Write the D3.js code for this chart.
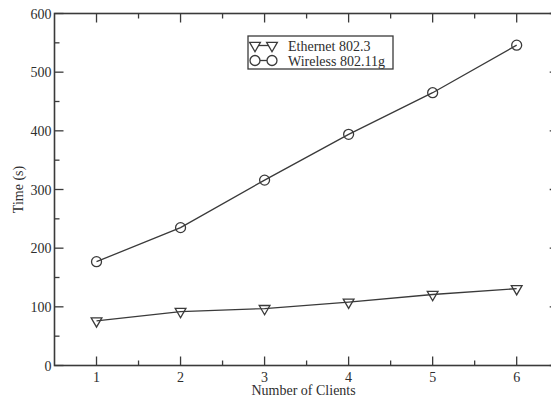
<!DOCTYPE html>
<html>
  <head>
    <title>Time vs Clients</title>
    <script src="https://cdn.jsdelivr.net/npm/d3@7"></script>
    <style>
      body { margin: 0; background: #fff; }
      text { font-family: "Liberation Serif", "DejaVu Serif", serif; fill: #2e2e2e; }
    </style>
  </head>
  <body>
    <svg width="551" height="398" id="mainsvg"></svg>
    <script>
        const clients = [1, 2, 3, 4, 5, 6];
        const ethernet = [76, 92, 97, 108, 121, 131];
        const wireless = [177, 235, 316, 394, 465, 546];
        const seriesNames = ['Ethernet 802.3', 'Wireless 802.11g'];
        const yTicks = [0, 100, 200, 300, 400, 500, 600];

        const svg = d3.select('#mainsvg');
        const margin = {top: 13.5, left: 54.5, bottom: 365.5, right: 558.7};

        const x = d3.scaleLinear().domain([0.5, 6.5]).range([margin.left, margin.right]);
        const y = d3.scaleLinear().domain([0, 600]).range([margin.bottom, margin.top]);

        const ink = '#3a3a3a';

        // ticks, inward on all four sides
        const ticks = svg.append('g').attr('stroke', ink).attr('stroke-width', 1.3);
        const xMajor = clients, xMinor = d3.range(1.5, 6.5, 1);
        const yMinor = d3.range(50, 600, 100);
        xMajor.forEach(v => {
          ticks.append('line').attr('x1', x(v)).attr('x2', x(v)).attr('y1', y(0)).attr('y2', y(0) - 9);
          ticks.append('line').attr('x1', x(v)).attr('x2', x(v)).attr('y1', y(600)).attr('y2', y(600) + 9);
        });
        xMinor.forEach(v => {
          ticks.append('line').attr('x1', x(v)).attr('x2', x(v)).attr('y1', y(0)).attr('y2', y(0) - 5);
          ticks.append('line').attr('x1', x(v)).attr('x2', x(v)).attr('y1', y(600)).attr('y2', y(600) + 5);
        });
        yTicks.forEach(v => {
          ticks.append('line').attr('x1', x(0.5)).attr('x2', x(0.5) + 9).attr('y1', y(v)).attr('y2', y(v));
          ticks.append('line').attr('x1', x(6.5)).attr('x2', x(6.5) - 9).attr('y1', y(v)).attr('y2', y(v));
        });
        yMinor.forEach(v => {
          ticks.append('line').attr('x1', x(0.5)).attr('x2', x(0.5) + 5).attr('y1', y(v)).attr('y2', y(v));
          ticks.append('line').attr('x1', x(6.5)).attr('x2', x(6.5) - 5).attr('y1', y(v)).attr('y2', y(v));
        });

        // frame
        svg.append('rect')
          .attr('x', x(0.5)).attr('y', y(600))
          .attr('width', x(6.5) - x(0.5)).attr('height', y(0) - y(600))
          .attr('fill', 'none').attr('stroke', ink).attr('stroke-width', 1.6);

        // tick labels
        svg.append('g').selectAll('text').data(xMajor).join('text')
          .attr('x', d => x(d)).attr('y', y(0) + 16)
          .attr('text-anchor', 'middle').attr('font-size', 14)
          .text(d => d);
        svg.append('g').selectAll('text').data(yTicks).join('text')
          .attr('x', x(0.5) - 3).attr('y', d => y(d) + 5)
          .attr('text-anchor', 'end').attr('font-size', 14)
          .text(d => d);

        // axis titles
        svg.append('text')
          .attr('x', (x(0.5) + x(6.5)) / 2 - 3).attr('y', 395)
          .attr('text-anchor', 'middle').attr('font-size', 14)
          .text('Number of Clients');
        svg.append('text')
          .attr('transform', `translate(23, ${(y(0) + y(600)) / 2}) rotate(-90)`)
          .attr('text-anchor', 'middle').attr('font-size', 14)
          .text('Time (s)');

        const line = d3.line().x((d, i) => x(clients[i])).y(d => y(d));
        const tri = d3.symbol().type(d3.symbolTriangle).size(50);
        const circ = d3.symbol().type(d3.symbolCircle).size(78);

        const series = [
          {name: seriesNames[0], values: ethernet, shape: tri, rot: 180},
          {name: seriesNames[1], values: wireless, shape: circ, rot: 0}
        ];

        series.forEach(s => {
          svg.append('path').attr('d', line(s.values))
            .attr('fill', 'none').attr('stroke', ink).attr('stroke-width', 1.3);
          svg.append('g').selectAll('path').data(s.values).join('path')
            .attr('d', s.shape())
            .attr('transform', (d, i) => `translate(${x(clients[i])}, ${y(d)}) rotate(${s.rot})`)
            .attr('fill', 'none').attr('stroke', ink).attr('stroke-width', 1.3);
        });

        // legend
        const legend = svg.append('g').attr('transform', 'translate(248, 36)');
        legend.append('rect').attr('width', 145).attr('height', 33)
          .attr('fill', '#fff').attr('stroke', ink).attr('stroke-width', 1.3);
        series.forEach((s, i) => {
          const ly = 9.5 + i * 15;
          legend.append('line').attr('x1', 7).attr('x2', 24).attr('y1', ly).attr('y2', ly)
            .attr('stroke', ink).attr('stroke-width', 1.3);
          [7, 24].forEach(lx => {
            legend.append('path').attr('d', s.shape())
              .attr('transform', `translate(${lx}, ${ly}) rotate(${s.rot})`)
              .attr('fill', '#fff').attr('stroke', ink).attr('stroke-width', 1.3);
          });
          legend.append('text').attr('x', 40).attr('y', ly + 5)
            .attr('font-size', 14).text(s.name);
        });
    </script>
  </body>
</html>
